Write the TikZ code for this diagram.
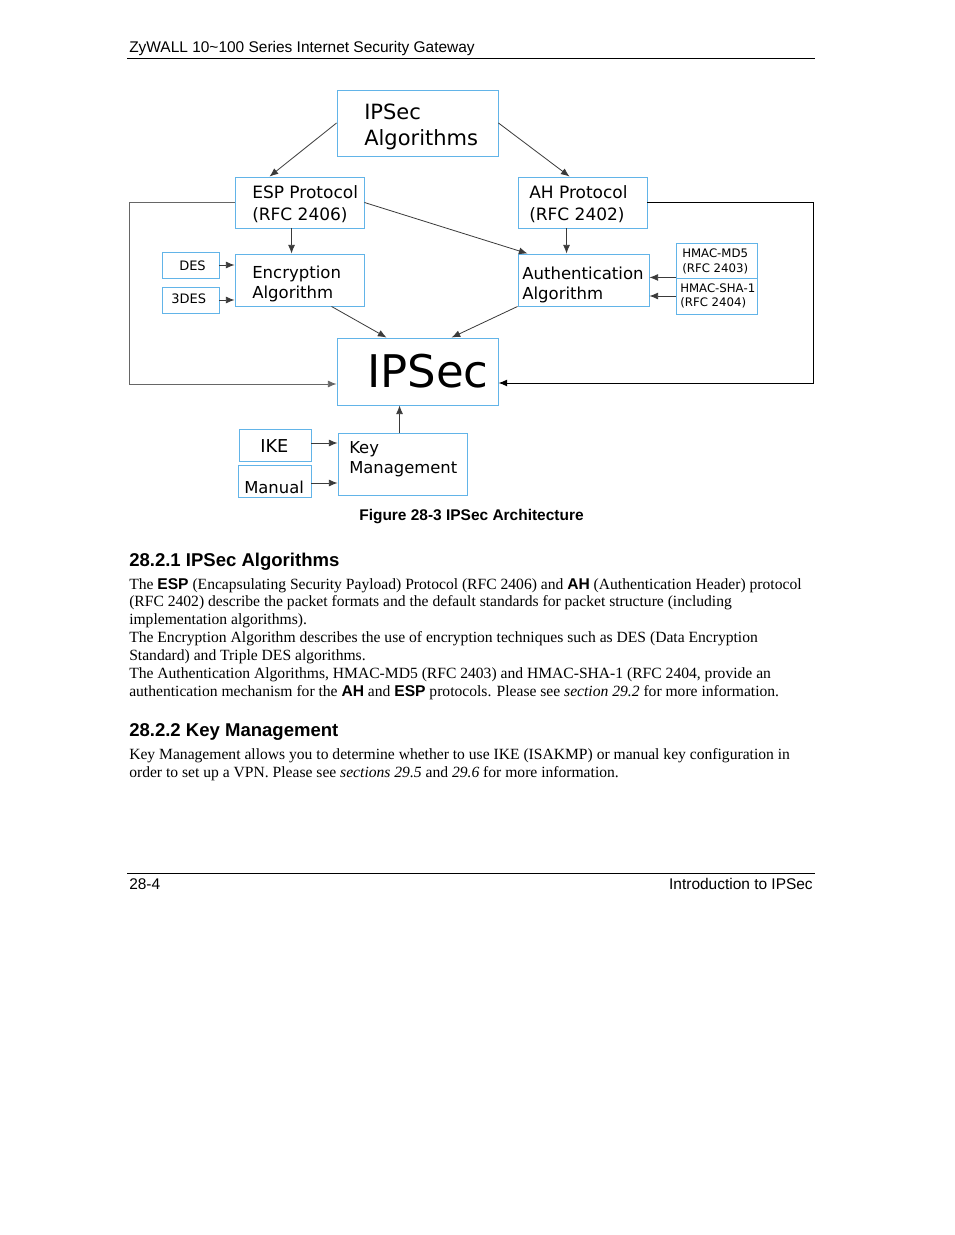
\documentclass[tikz,border=0pt]{standalone}
\usepackage{fontspec}
\setmainfont{Liberation Serif}
\newfontfamily\arial{Liberation Sans}
\newfontfamily\dv{DejaVu Sans}
\usetikzlibrary{arrows.meta,fit,calc}
\definecolor{boxblue}{HTML}{62B4E8}
\definecolor{linegray}{HTML}{3A3A3A}
\newcommand\fs[2]{\fontsize{#1}{#2}\selectfont}
\begin{document}
\begin{tikzpicture}[x=0.75pt,y=-0.75pt,
  box/.style={draw=boxblue, line width=0.7pt, inner sep=0pt, rectangle},
  conn/.style={draw=linegray, line width=0.6pt, -{Latex[length=6.5pt,width=5.2pt]}},
  dtxt/.style={anchor=base west, inner sep=0pt, align=left, text=black},
  ptxt/.style={anchor=base west, inner sep=0pt, align=left, text=black}]
\fill[white] (0,0) rectangle (954,1235);
\path[use as bounding box] (0,0) rectangle (954,1235);

% header and footer
\node[ptxt, font={\arial\fs{11.6pt}{14pt}}] (hdr) at (129,52) {ZyWALL 10\textasciitilde100 Series Internet Security Gateway};
\coordinate (hl) at (127,58); \coordinate (hr) at (815,58);
\draw[line width=0.75pt] (hl) -- (hr);
\coordinate (fl) at (127,873); \coordinate (fr) at (815,873);
\draw[line width=0.75pt] (fl) -- (fr);
\node[ptxt, font={\arial\fs{11.6pt}{14pt}}] (fpage) at (129,889) {28-4};
\node[anchor=base east, inner sep=0pt, font={\arial\fs{11.6pt}{14pt}}] (ftitle) at (813,889) {Introduction to IPSec};

% boxes
\node[box, fit={(337,90) (498,156)}] (alg) {};
\node[box, fit={(235,177) (364,228)}] (esp) {};
\node[box, fit={(518,177) (647,228)}] (ah) {};
\node[box, fit={(235,254) (364,306)}] (enc) {};
\node[box, fit={(162,252) (219,278)}] (des) {};
\node[box, fit={(162,287) (219,313)}] (tdes) {};
\node[box, fit={(518,254) (649,306)}] (auth) {};
\node[box, fit={(676,243) (757,278)}] (md5) {};
\node[box, fit={(676,278) (757,314)}] (sha) {};
\node[box, fit={(337,338) (498,405)}] (ipsec) {};
\node[box, fit={(239,429) (311,461)}] (ike) {};
\node[box, fit={(238,465) (311,497)}] (man) {};
\node[box, fit={(338,433) (467,495)}] (km) {};

% box texts (anchored at the baseline of their last line)
\node[dtxt, font={\dv\fs{15.75pt}{19.5pt}}] (talg) at (364,145) {IPSec\\Algorithms};
\node[dtxt, font={\dv\fs{12.75pt}{16.5pt}}] (tesp) at (252,220) {ESP Protocol\\(RFC 2406)};
\node[dtxt, font={\dv\fs{12.75pt}{16.5pt}}] (tah) at (529,220) {AH Protocol\\(RFC 2402)};
\node[dtxt, font={\dv\fs{12.4pt}{15pt}}] (tenc) at (252,298) {Encryption\\Algorithm};
\node[dtxt, font={\dv\fs{12.4pt}{14.3pt}}] (tauth) at (522,299) {Authentication\\Algorithm};
\node[dtxt, font={\dv\fs{9.75pt}{12pt}}] (tdes1) at (179,270) {DES};
\node[dtxt, font={\dv\fs{9.75pt}{12pt}}] (tdes3) at (171,303) {3DES};
\node[dtxt, font={\dv\fs{8.8pt}{11.25pt}}] (tmd5) at (682,272) {HMAC-MD5\\(RFC 2403)};
\node[dtxt, font={\dv\fs{8.8pt}{10.5pt}}] (tsha) at (680,306) {HMAC-SHA-1\\(RFC 2404)};
\node[dtxt, font={\dv\fs{33.75pt}{40pt}}] (tipsec) at (367,387) {IPSec};
\node[dtxt, font={\dv\fs{13.3pt}{16pt}}] (tike) at (260,452) {IKE};
\node[dtxt, font={\dv\fs{12.3pt}{15pt}}] (tman) at (244,493) {Manual};
\node[dtxt, font={\dv\fs{12.3pt}{15pt}}] (tkm) at (349,473) {Key\\Management};

% connectors
\draw[conn] (alg.west) -- ($(esp.north west)+(35,0)$);
\draw[conn] (alg.east) -- ($(ah.north west)+(52,0)$);
\draw[conn] (esp.east) -- ($(auth.north west)+(10,0)$);
\draw[conn] ($(esp.south west)+(57,0)$) -- ($(enc.north west)+(57,0)$);
\draw[conn] ($(ah.south west)+(49,0)$) -- ($(auth.north west)+(49,0)$);
\draw[conn] (des.east) -- (des.east -| enc.west);
\draw[conn] (tdes.east) -- (tdes.east -| enc.west);
\draw[conn] ($(md5.south west)+(0,-1)$) -- ($(md5.south west -| auth.east)+(0,-1)$);
\draw[conn] (sha.west) -- (sha.west -| auth.east);
\draw[conn] ($(enc.south west)+(97,0)$) -- ($(ipsec.north west)+(50,0)$);
\draw[conn] (auth.south west) -- ($(ipsec.north west)+(115,0)$);
\draw[conn, draw=gray!80!black] (esp.west) -- ++(-105,0) |- ($(ipsec.west)+(0,12.5)$);
\draw[conn, draw=black, line width=0.75pt] (ah.east) -- ++(166,0) |- ($(ipsec.east)+(0,11.5)$);
\draw[conn] ($(km.north west)+(62,0)$) -- ($(ipsec.south west)+(63,0)$);
\draw[conn] ($(ike.east)+(0,-2)$) -- ($(ike.east -| km.west)+(0,-2)$);
\draw[conn] ($(man.east)+(0,2)$) -- ($(man.east -| km.west)+(0,2)$);

% caption
\node[anchor=base, inner sep=0pt, font={\arial\bfseries\fs{11.6pt}{14pt}}] (cap) at (471.5,520) {Figure 28-3 IPSec Architecture};

% section 1
\node[ptxt, font={\arial\bfseries\fs{13.9pt}{16pt}}] (h1) at (129,566) {28.2.1 IPSec Algorithms};
\node[ptxt, font={\fs{11.7pt}{13.375pt}}] (p1) at (129,696) {%
The {\arial\bfseries ESP} (Encapsulating Security Payload) Protocol (RFC 2406) and {\arial\bfseries AH} (Authentication Header) protocol\\
(RFC 2402) describe the packet formats and the default standards for packet structure (including\\
implementation algorithms).\\
The Encryption Algorithm describes the use of encryption techniques such as DES (Data Encryption\\
Standard) and Triple DES algorithms.\\
The Authentication Algorithms, HMAC-MD5 (RFC 2403) and HMAC-SHA-1 (RFC 2404, provide an\\
authentication mechanism for the {\arial\bfseries AH} and {\arial\bfseries ESP} protocols. Please see \textit{section 29.2} for more information.};

% section 2
\node[ptxt, font={\arial\bfseries\fs{13.9pt}{16pt}}] (h2) at (129,736) {28.2.2 Key Management};
\node[ptxt, font={\fs{11.7pt}{13.5pt}}] (p2) at (129,777) {%
Key Management allows you to determine whether to use IKE (ISAKMP) or manual key configuration in\\
order to set up a VPN. Please see \textit{sections 29.5} and \textit{29.6} for more information.};
\end{tikzpicture}
\end{document}
